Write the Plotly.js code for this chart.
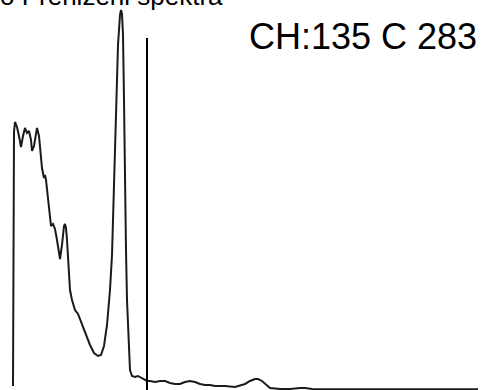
<!DOCTYPE html>
<html>
<head>
<meta charset="utf-8">
<script src="https://cdn.plot.ly/plotly-3.0.1.min.js"></script>
<style>html,body{margin:0;padding:0;background:#fff;}#chart{width:481px;height:390px;}</style>
</head>
<body>
<div id="chart"></div>
<script>
// Spectrum: channel numbers and counts
const channels = [1,2,3,5,7,9,11,13,15,17,19,20,22,24,25,27,28,30,32,33,34,36,38,39,41,43,45,47,48,50,52,53,54,55,56,58,60,63,66,70,74,78,82,86,89,92,95,98,100,102,104,106,108,109,110,111,112,113,114,115,116,117,118,120,123,126,128,131,135,138,143,148,153,158,163,168,173,178,183,188,193,198,203,213,223,233,238,243,246,250,254,258,268,278,288,293,300,313,328,348,368,388,408,428,448,466];
const counts = [154,6682,6939,6811,6579,6297,6579,6785,6656,6708,6476,6194,6322,6579,6785,6579,6219,5757,5500,5577,5448,4934,4420,4266,4318,4189,3906,3495,3418,3778,4266,4318,4215,3906,3341,2621,2364,2107,2005,1722,1439,1208,1002,925,951,1182,1722,2621,3521,5191,7247,8918,9689,9817,9715,9175,7504,5191,3649,2364,1593,951,565,411,386,411,386,334,283,283,257,283,283,231,206,206,257,283,257,206,180,180,154,154,129,206,283,334,334,283,180,103,77,77,103,103,77,70,70,70,70,70,70,70,70,70];
const cursorChannel = 135;
const cursorCounts = 283;
const titleText = "o Prenizeni spektra";
const readoutText = "CH:" + cursorChannel + " C " + cursorCounts;

const font = "Liberation Sans, Arial, Helvetica, sans-serif";

const trace = {
  x: channels, y: counts, type: 'scatter', mode: 'lines',
  line: {color: '#1a1a1a', width: 2, shape: 'linear'},
  hoverinfo: 'skip', showlegend: false
};

const layout = {
  width: 481, height: 390,
  margin: {l: 0, r: 0, t: 0, b: 0, pad: 0},
  paper_bgcolor: '#ffffff', plot_bgcolor: '#ffffff',
  showlegend: false,
  xaxis: {range: [-12, 469], visible: false, showgrid: false, zeroline: false},
  yaxis: {range: [51, 10074], visible: false, showgrid: false, zeroline: false},
  shapes: [{
    type: 'line', xref: 'x', yref: 'paper',
    x0: cursorChannel, x1: cursorChannel, y0: -0.01, y1: 1 - 38/390,
    line: {color: '#000000', width: 2}
  }],
  annotations: [
    {text: readoutText, xref: 'paper', yref: 'paper', x: 479/481, y: 1 - 36/390,
     xanchor: 'right', yanchor: 'middle', showarrow: false,
     font: {family: font, size: 36, color: '#000000'}},
    {text: titleText, xref: 'paper', yref: 'paper', x: -2/481, y: 1 + 4/390,
     xanchor: 'left', yanchor: 'middle', showarrow: false,
     font: {family: font, size: 26, color: '#000000'}}
  ]
};

Plotly.newPlot('chart', [trace], layout, {staticPlot: true, displayModeBar: false});
</script>
</body>
</html>
